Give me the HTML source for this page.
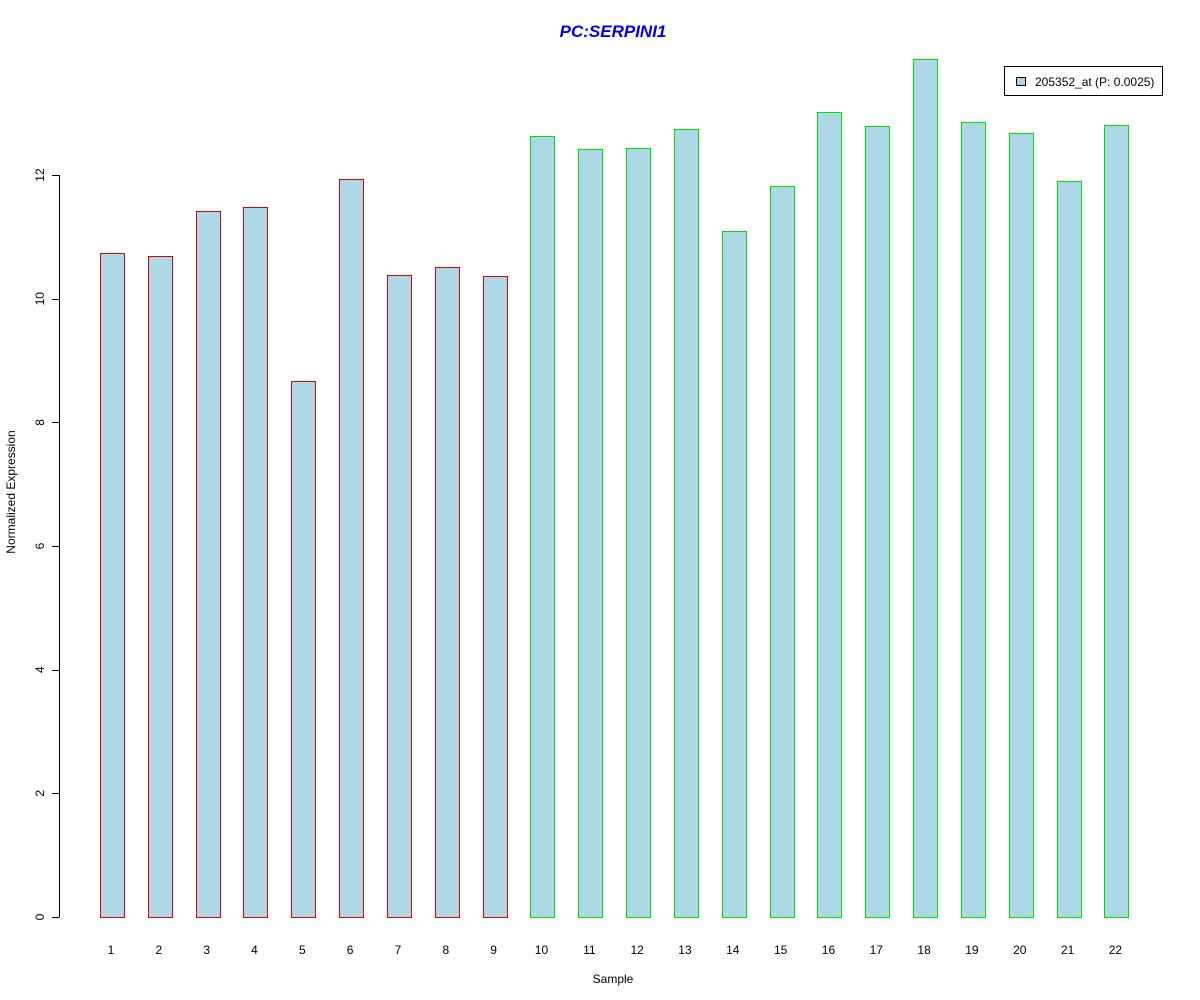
<!DOCTYPE html>
<html><head><meta charset="utf-8"><style>body{margin:0;background:#fff}svg{display:block}text{font-family:"Liberation Sans",sans-serif}</style></head>
<body>
<svg id="chart" width="1200" height="1000" xmlns="http://www.w3.org/2000/svg">
<text x="613" y="37" text-anchor="middle" font-size="17" font-weight="bold" font-style="italic" fill="#0000ee">PC:SERPINI1</text>
<text x="613" y="983" text-anchor="middle" font-size="12">Sample</text>
<text transform="translate(15,492) rotate(-90)" text-anchor="middle" font-size="12">Normalized Expression</text>
<g id="yaxis"></g>
<g id="bars"></g>
<g id="xlabels"></g>
<g>
<rect x="1004.5" y="66.5" width="158" height="29" fill="#fff" stroke="#000"/>
<rect x="1016.5" y="77.5" width="9" height="8" fill="#add8e6" stroke="#000"/>
<text x="1035" y="86" font-size="12">205352_at (P: 0.0025)</text>
</g>
</svg>
<script>
const categories = ["1","2","3","4","5","6","7","8","9","10","11","12","13","14","15","16","17","18","19","20","21","22"];
const values = [10.74,10.69,11.42,11.48,8.67,11.94,10.38,10.51,10.37,12.63,12.42,12.44,12.74,11.09,11.82,13.02,12.79,13.88,12.86,12.68,11.90,12.81];
const groups = ["a","a","a","a","a","a","a","a","a","b","b","b","b","b","b","b","b","b","b","b","b","b"];
const yTicks = [0,2,4,6,8,10,12];
const NS="http://www.w3.org/2000/svg";
const y = v => 917 - v*61.83;
const xc = i => 112 + i*47.83;
const mk=(t,a,p)=>{const e=document.createElementNS(NS,t);for(const k in a)e.setAttribute(k,a[k]);p.appendChild(e);return e;};
const ya=document.getElementById('yaxis');
const axl=mk('line',{x1:59.5,x2:59.5,y1:y(yTicks[0]),y2:y(yTicks[yTicks.length-1]),stroke:'#000'},ya);


yTicks.forEach(t=>{
  const l=mk('line',{x1:52,x2:59.5,y1:Math.round(y(t))+0.5,y2:Math.round(y(t))+0.5,stroke:'#000'},ya);
  
  
  const tx=mk('text',{transform:`translate(44,${y(t)}) rotate(-90)`,'text-anchor':'middle','font-size':12},ya);
  tx.textContent=t;
  
  
});
const bg=document.getElementById('bars'), xl=document.getElementById('xlabels');
values.forEach((v,i)=>{
  const r=mk('rect',{x:Math.round(xc(i)-12)+0.5,y:Math.round(y(v))+0.5,width:24,height:Math.round(y(0))-Math.round(y(v)),fill:'#add8e6',stroke:groups[i]==='a'?'#e00000':'#00e000'},bg);
  
  
  const t=mk('text',{x:xc(i)-1,y:954,'text-anchor':'middle','font-size':12},xl);
  t.textContent=categories[i];
  
  
});
</script>
</body></html>
